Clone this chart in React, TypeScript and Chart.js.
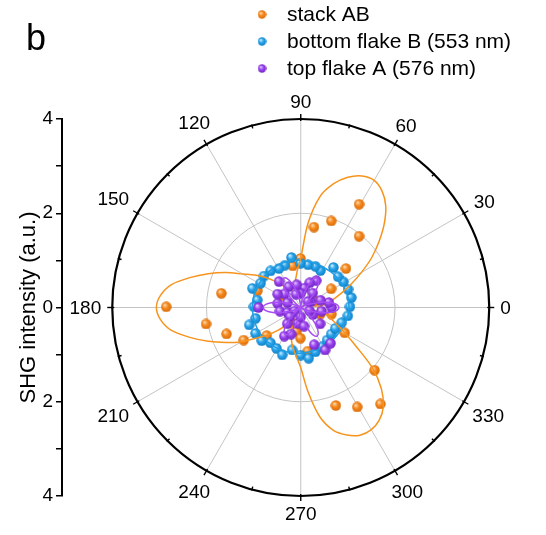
import React, { useEffect, useRef } from 'react';
import { Chart, registerables } from 'chart.js';

Chart.register(...registerables);

const FONT = "'Liberation Sans', Arial, sans-serif";

// ---- polar frame ----
const angleTickValues = [0, 30, 60, 90, 120, 150, 180, 210, 240, 270, 300, 330];
const angleTickLabels = ['0', '30', '60', '90', '120', '150', '180', '210', '240', '270', '300', '330'];
const minorAngleValues = [15, 45, 75, 105, 135, 165, 195, 225, 255, 285, 315, 345];
const gridRadii = [2];
const outerRadius = 4;

// ---- legend ----
const seriesNames = ['stack AB', 'bottom flake B (553 nm)', 'top flake A (576 nm)'];
const axisTitle = 'SHG intensity (a.u.)';
const panelLabel = 'b';

// ---- measured points (angle in degrees, intensity) ----
const stackABAngles = [23.9, 31.5, 40.6, 50.6, 60.4, 70.5, 80.6, 90.3, 100.9, 150.5, 159, 169.9, 179.7, 189.8, 199.5, 209.6, 219.4, 241, 260, 269.4, 279.1, 289.8, 299.7, 309.7, 319.8, 330.2, 341.7, 348];
const stackABValues = [0.34, 0.76, 1.27, 1.96, 2.52, 1.95, 1.73, 1.04, 0.9, 0.5, 0.99, 1.72, 2.87, 2.05, 1.68, 1.4, 0.94, 0.38, 0.52, 0.65, 0.94, 2.21, 2.43, 2.66, 2.06, 1.08, 0.44, 0.67];

const flakeBAngles = [1, 11, 21, 31, 39.5, 50.6, 61.8, 70.5, 80.3, 90.4, 100.6, 110.6, 119.3, 129.7, 139.6, 149, 158.5, 170.3, 179, 193.4, 198.6, 209.7, 220.2, 229.3, 239.2, 248.5, 258.4, 269.6, 279, 288.4, 298.5, 309, 319, 329, 339.8, 350];
const flakeBValues = [1.05, 1.1, 1.08, 1.06, 1.03, 1.1, 0.89, 0.93, 0.92, 0.94, 1.08, 0.96, 0.95, 1.01, 1.03, 1.0, 1.11, 0.94, 1.0, 0.99, 1.16, 1.11, 1.09, 0.99, 1.01, 1.08, 0.92, 1.01, 1.09, 0.99, 0.95, 0.89, 0.86, 0.86, 0.93, 1.02];

const flakeAAngles = [0, 10, 20, 30, 40, 50, 60, 70, 80, 90, 100, 110, 120, 130, 140, 150, 160, 170, 180, 190, 200, 210, 220, 230, 240, 250, 260, 270, 280, 290, 300, 310, 320, 330, 340, 350];
const flakeAValues = [0.66, 0.61, 0.45, 0.25, 0.2, 0.4, 0.66, 0.56, 0.42, 0.3, 0.49, 0.3, 0.51, 0.72, 0.45, 0.57, 0.3, 0.5, 0.9, 0.45, 0.3, 0.15, 0.3, 0.45, 0.7, 0.6, 0.34, 0.2, 0.4, 0.84, 1.04, 0.99, 0.54, 0.3, 0.2, 0.45];

// ---- fitted curves ----
const fitAngles5 = [0, 5, 10, 15, 20, 25, 30, 35, 40, 45, 50, 55, 60, 65, 70, 75, 80, 85, 90, 95, 100, 105, 110, 115, 120, 125, 130, 135, 140, 145, 150, 155, 160, 165, 170, 175, 180, 185, 190, 195, 200, 205, 210, 215, 220, 225, 230, 235, 240, 245, 250, 255, 260, 265, 270, 275, 280, 285, 290, 295, 300, 305, 310, 315, 320, 325, 330, 335, 340, 345, 350, 355];
const fitStackAB = [0.35, 0.45, 0.6, 0.75, 0.95, 1.2, 1.5, 1.85, 2.18, 2.52, 2.82, 3.02, 3.12, 3.08, 2.94, 2.72, 2.4, 1.8, 1.05, 0.8, 0.62, 0.52, 0.45, 0.42, 0.42, 0.5, 0.62, 0.8, 1.0, 1.2, 1.42, 1.76, 2.1, 2.45, 2.8, 3.0, 3.08, 3.0, 2.8, 2.45, 2.1, 1.76, 1.45, 1.12, 0.9, 0.68, 0.5, 0.4, 0.35, 0.45, 0.6, 0.75, 0.9, 1.05, 1.28, 1.8, 2.36, 2.7, 2.88, 2.99, 3.0, 2.92, 2.74, 2.43, 2.0, 1.45, 1.1, 0.85, 0.68, 0.55, 0.45, 0.38];
const fitFlakeA = [0.82, 0.77, 0.62, 0.41, 0.2, 0.06, 0.02, 0.05, 0.18, 0.36, 0.54, 0.67, 0.72, 0.67, 0.54, 0.36, 0.18, 0.05, 0.02, 0.05, 0.18, 0.36, 0.54, 0.67, 0.72, 0.67, 0.54, 0.36, 0.18, 0.05, 0.02, 0.05, 0.2, 0.4, 0.6, 0.75, 0.8, 0.75, 0.6, 0.4, 0.2, 0.05, 0.02, 0.04, 0.17, 0.33, 0.5, 0.62, 0.66, 0.62, 0.5, 0.33, 0.17, 0.04, 0.02, 0.05, 0.18, 0.35, 0.53, 0.65, 0.7, 0.65, 0.53, 0.35, 0.18, 0.05, 0.02, 0.06, 0.2, 0.41, 0.62, 0.77];
const fitAngles10 = [0, 10, 20, 30, 40, 50, 60, 70, 80, 90, 100, 110, 120, 130, 140, 150, 160, 170, 180, 190, 200, 210, 220, 230, 240, 250, 260, 270, 280, 290, 300, 310, 320, 330, 340, 350];
const fitFlakeB = [1.03, 1.03, 1.02, 1.01, 1.0, 0.99, 0.98, 0.98, 0.99, 1.0, 1.01, 1.02, 1.02, 1.02, 1.02, 1.02, 1.03, 1.03, 1.03, 1.03, 1.03, 1.03, 1.02, 1.01, 1.0, 0.99, 0.98, 0.97, 0.96, 0.96, 0.96, 0.96, 0.97, 0.98, 1.0, 1.02];

const colors = {
  ab: { base: '#F5891F', light: '#FFD7A6', dark: '#D86A05', line: '#F7941D' },
  b: { base: '#2AA4EA', light: '#C4EAFF', dark: '#0C7DC6', line: '#1E9DE3' },
  a: { base: '#9B45EE', light: '#E0C0FF', dark: '#7022C4', line: '#A64CF2' },
};

function toXY(angles: number[], radii: number[], close = false) {
  const pts = angles.map((a, i) => ({
    x: radii[i] * Math.cos((a * Math.PI) / 180),
    y: radii[i] * Math.sin((a * Math.PI) / 180),
  }));
  if (close && pts.length) pts.push({ ...pts[0] });
  return pts;
}

function makeBall(c: { base: string; light: string; dark: string }, d: number) {
  const cv = document.createElement('canvas');
  cv.width = d;
  cv.height = d;
  const g = cv.getContext('2d')!;
  const r = d / 2;
  const grad = g.createRadialGradient(r * 0.7, r * 0.65, r * 0.08, r, r, r);
  grad.addColorStop(0, c.light);
  grad.addColorStop(0.45, c.base);
  grad.addColorStop(1, c.dark);
  g.fillStyle = grad;
  g.beginPath();
  g.arc(r, r, r - 0.3, 0, Math.PI * 2);
  g.fill();
  return cv;
}

const polarPlugin = {
  id: 'polarFrame',
  beforeDatasetsDraw(chart: any) {
    const { ctx, scales } = chart;
    const xs = scales.x;
    const ys = scales.y;
    const cx = xs.getPixelForValue(0);
    const cy = ys.getPixelForValue(0);
    const pr = (r: number) => ys.getPixelForValue(0) - ys.getPixelForValue(r);
    const R = pr(outerRadius);
    ctx.save();
    ctx.strokeStyle = '#c4c4c4';
    ctx.lineWidth = 1;
    gridRadii.forEach((r) => {
      ctx.beginPath();
      ctx.arc(cx, cy, pr(r), 0, Math.PI * 2);
      ctx.stroke();
    });
    angleTickValues.forEach((a) => {
      const t = (a * Math.PI) / 180;
      ctx.beginPath();
      ctx.moveTo(cx, cy);
      ctx.lineTo(cx + R * Math.cos(t), cy - R * Math.sin(t));
      ctx.stroke();
    });
    // outer frame
    ctx.strokeStyle = '#000';
    ctx.lineWidth = 2.2;
    ctx.beginPath();
    ctx.arc(cx, cy, R, 0, Math.PI * 2);
    ctx.stroke();
    ctx.lineWidth = 1.4;
    angleTickValues.forEach((a) => {
      const t = (a * Math.PI) / 180;
      ctx.beginPath();
      ctx.moveTo(cx + (R - 2) * Math.cos(t), cy - (R - 2) * Math.sin(t));
      ctx.lineTo(cx + (R + 5) * Math.cos(t), cy - (R + 5) * Math.sin(t));
      ctx.stroke();
    });
    minorAngleValues.forEach((a) => {
      const t = (a * Math.PI) / 180;
      ctx.beginPath();
      ctx.moveTo(cx + (R - 3) * Math.cos(t), cy - (R - 3) * Math.sin(t));
      ctx.lineTo(cx + (R + 1) * Math.cos(t), cy - (R + 1) * Math.sin(t));
      ctx.stroke();
    });
    // angle labels
    ctx.fillStyle = '#000';
    ctx.font = `19px ${FONT}`;
    ctx.textAlign = 'center';
    ctx.textBaseline = 'middle';
    angleTickValues.forEach((a, i) => {
      const t = (a * Math.PI) / 180;
      const label = angleTickLabels[i];
      const w = ctx.measureText(label).width;
      const h = 13;
      const off = R + 11 + Math.abs(Math.cos(t)) * (w / 2) + Math.abs(Math.sin(t)) * (h / 2);
      ctx.fillText(label, cx + off * Math.cos(t), cy - off * Math.sin(t) + 1);
    });
    ctx.restore();
  },
  afterDraw(chart: any) {
    const { ctx } = chart;
    const balls = chart.options.plugins.polarFrame.balls as HTMLCanvasElement[];
    ctx.save();
    ctx.fillStyle = '#000';
    ctx.font = `36px ${FONT}`;
    ctx.textAlign = 'left';
    ctx.textBaseline = 'alphabetic';
    ctx.fillText(panelLabel, 26, 50);
    ctx.font = `21px ${FONT}`;
    ctx.textBaseline = 'middle';
    const rowsY = [15.5, 42.5, 69.5];
    seriesNames.forEach((name, i) => {
      const b = balls[i];
      ctx.drawImage(b, 262 - b.width / 2, rowsY[i] - 1 - b.height / 2);
      ctx.fillText(name, 287, rowsY[i]);
    });
    ctx.restore();
  },
};

export default function App() {
  const ref = useRef<HTMLCanvasElement | null>(null);
  useEffect(() => {
    if (!ref.current) return;
    const ballAB = makeBall(colors.ab, 11);
    const ballB = makeBall(colors.b, 11);
    const ballA = makeBall(colors.a, 11);
    const legendBalls = [makeBall(colors.ab, 9), makeBall(colors.b, 9), makeBall(colors.a, 9)];
    const chart = new Chart(ref.current, {
      type: 'scatter',
      data: {
        datasets: [
          {
            label: seriesNames[0],
            data: toXY(stackABAngles, stackABValues),
            pointStyle: ballAB as any,
            pointRadius: 5.5,
            order: 6,
          },
          {
            label: seriesNames[1],
            data: toXY(flakeBAngles, flakeBValues),
            pointStyle: ballB as any,
            pointRadius: 5.5,
            order: 5,
          },
          {
            label: 'fit B',
            data: toXY(fitAngles10, fitFlakeB, true),
            showLine: true,
            pointRadius: 0,
            borderColor: colors.b.line,
            borderWidth: 1.5,
            tension: 0.4,
            order: 4,
          },
          {
            label: 'fit AB',
            data: toXY(fitAngles5, fitStackAB, true),
            showLine: true,
            pointRadius: 0,
            borderColor: colors.ab.line,
            borderWidth: 1.5,
            tension: 0.3,
            order: 3,
          },
          {
            label: seriesNames[2],
            data: toXY(flakeAAngles, flakeAValues),
            pointStyle: ballA as any,
            pointRadius: 5.5,
            order: 2,
          },
          {
            label: 'fit A',
            data: toXY(fitAngles5, fitFlakeA, true),
            showLine: true,
            pointRadius: 0,
            borderColor: colors.a.line,
            borderWidth: 1.5,
            tension: 0.35,
            order: 1,
          },
        ] as any,
      },
      options: {
        animation: false,
        responsive: false,
        events: [],
        layout: { padding: { left: 0, right: 4, top: 119, bottom: 39 } },
        scales: {
          x: {
            type: 'linear',
            display: false,
            min: -5.093,
            max: 5.093,
          },
          y: {
            type: 'linear',
            position: 'left',
            min: -4,
            max: 4,
            afterFit: (scale: any) => {
              scale.width = 62;
            },
            border: { display: true, color: '#000', width: 2 },
            grid: {
              drawOnChartArea: false,
              drawTicks: true,
              tickLength: 6,
              color: '#000',
              lineWidth: 1.5,
            },
            ticks: {
              stepSize: 1,
              padding: 3,
              color: '#000',
              font: { family: FONT, size: 19 },
              callback: (v: any) => (Number(v) % 2 === 0 ? String(Math.abs(Number(v))) : ''),
            },
            title: {
              display: true,
              text: axisTitle,
              color: '#000',
              font: { family: FONT, size: 22 },
              padding: { top: 16, bottom: 0 },
            },
          },
        },
        plugins: {
          legend: { display: false },
          tooltip: { enabled: false },
          polarFrame: { balls: legendBalls },
        } as any,
      },
      plugins: [polarPlugin],
    });
    return () => chart.destroy();
  }, []);
  return (
    <div style={{ position: 'absolute', left: 0, top: 0, width: 546, height: 535, background: '#fff' }}>
      <canvas ref={ref} width={546} height={535} style={{ display: 'block' }} />
    </div>
  );
}
